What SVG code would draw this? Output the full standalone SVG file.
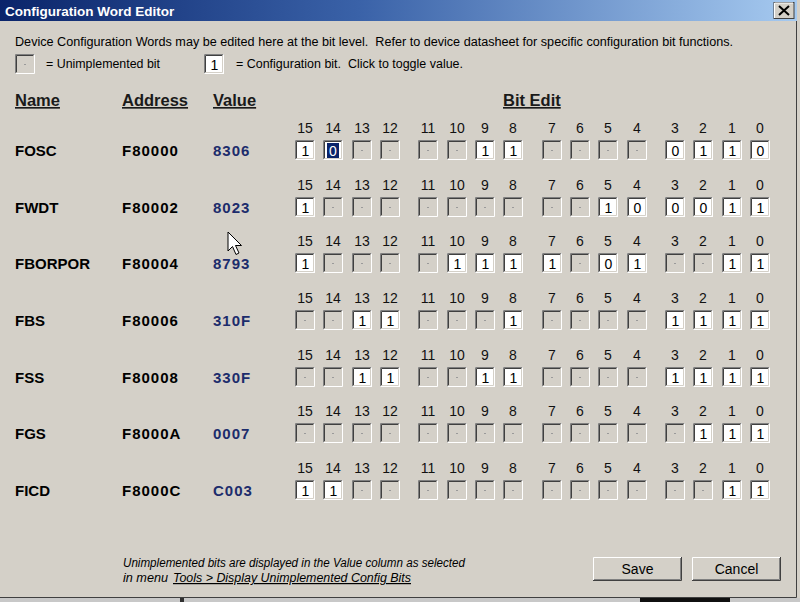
<svg xmlns="http://www.w3.org/2000/svg" xmlns:xlink="http://www.w3.org/1999/xlink" width="800" height="602" viewBox="0 0 800 602">
<style>
.t{font-family:"Liberation Sans",Arial,sans-serif;fill:#000}
.desc{font-size:12.5px;white-space:pre}
.hdr{font-size:16.5px;font-weight:bold;text-decoration:underline;fill:#1a1a1a}
.nm{font-size:15px;font-weight:bold}
.ad{font-size:15px;font-weight:bold;letter-spacing:1px}
.val{font-size:15px;font-weight:bold;letter-spacing:1px;fill:#1c2c6c}
.num{font-size:14px;text-anchor:middle;fill:#111}
.dig{font-size:14px;text-anchor:middle}
.foot{font-size:12px;font-style:italic}
.btn{font-size:14px;text-anchor:middle}
</style>
<defs>
<linearGradient id="tb" x1="0" y1="0" x2="1" y2="0">
<stop offset="0" stop-color="#0a246a"/>
<stop offset="0.45" stop-color="#3a62a8"/>
<stop offset="1" stop-color="#a6caf0"/>
</linearGradient>
<g id="bev" fill="none" stroke-width="1">
<path d="M0.5 19.5V0.5H19.5" stroke="#808080"/>
<path d="M1.5 18.5V1.5H18.5" stroke="#404040"/>
<path d="M0.5 19.5H19.5V0.5" stroke="#ffffff"/>
<path d="M1.5 18.5H18.5V1.5" stroke="#d4d0c8"/>
</g>
<g id="u">
<rect width="20" height="20" fill="#d4d0c8"/>
<use xlink:href="#bev"/>
<rect x="9" y="10" width="2" height="1" fill="#9a9a9a"/>
</g>
<g id="one">
<rect width="20" height="20" fill="#ffffff"/>
<use xlink:href="#bev"/>
<text class="t dig" x="10.5" y="15.5">1</text>
</g>
<g id="zero">
<rect width="20" height="20" fill="#ffffff"/>
<use xlink:href="#bev"/>
<text class="t dig" x="10.5" y="15.5">0</text>
</g>
<g id="zsel">
<rect width="20" height="20" fill="#ffffff"/>
<use xlink:href="#bev"/>
<rect x="4" y="3" width="12" height="15" fill="#0a246a"/>
<text class="t dig" x="10" y="15.5" style="fill:#fff">0</text>
</g>
<g id="nums">
<text class="t num" x="305" y="0">15</text>
<text class="t num" x="333" y="0">14</text>
<text class="t num" x="362" y="0">13</text>
<text class="t num" x="390" y="0">12</text>
<text class="t num" x="428" y="0">11</text>
<text class="t num" x="457" y="0">10</text>
<text class="t num" x="485" y="0">9</text>
<text class="t num" x="513" y="0">8</text>
<text class="t num" x="552" y="0">7</text>
<text class="t num" x="580" y="0">6</text>
<text class="t num" x="608" y="0">5</text>
<text class="t num" x="637" y="0">4</text>
<text class="t num" x="675" y="0">3</text>
<text class="t num" x="703" y="0">2</text>
<text class="t num" x="732" y="0">1</text>
<text class="t num" x="760" y="0">0</text>
</g>
</defs>

<rect width="800" height="602" fill="#d4d0c8"/>

<g id="titlebar">
<rect x="0" y="0" width="797" height="21" fill="url(#tb)"/>
<text class="t" x="5" y="15.5" style="font-size:13.5px;font-weight:bold;fill:#fff">Configuration Word Editor</text>
<g id="close">
<rect x="774" y="2.5" width="20" height="16" fill="#d4d0c8" stroke="#404040"/>
<path d="M774.5 18V3H793" fill="none" stroke="#fff"/>
<path d="M779 6L789 15M789 6L779 15" stroke="#000" stroke-width="2"/>
</g>
</g>

<g id="frame">
<path d="M796.5 21V597.5H0" fill="none" stroke="#404040"/>
<rect x="0" y="598" width="800" height="4" fill="#c8c8c8"/>
<rect x="640" y="598" width="90" height="4" fill="#101010"/>
<rect x="180" y="598" width="4" height="4" fill="#303030"/>
</g>

<g id="intro">
<text class="t desc" x="15" y="46" textLength="718" lengthAdjust="spacingAndGlyphs">Device Configuration Words may be edited here at the bit level.  Refer to device datasheet for specific configuration bit functions.</text>
<use xlink:href="#u" x="15" y="54"/>
<text class="t desc" x="46" y="68" textLength="114" lengthAdjust="spacingAndGlyphs">= Unimplemented bit</text>
<use xlink:href="#one" x="204" y="54"/>
<text class="t desc" x="236" y="68" textLength="227" lengthAdjust="spacingAndGlyphs">= Configuration bit.  Click to toggle value.</text>
</g>

<g id="headers">
<text class="t hdr" x="15" y="106">Name</text>
<text class="t hdr" x="122" y="106">Address</text>
<text class="t hdr" x="213" y="106">Value</text>
<text class="t hdr" x="503" y="106">Bit Edit</text>
</g>

<g id="row-FOSC">
<text class="t nm" x="15" y="156">FOSC</text>
<text class="t ad" x="122" y="156">F80000</text>
<text class="t val" x="213" y="156">8306</text>
<use xlink:href="#nums" y="133"/>
<use xlink:href="#one" x="295" y="140"/><use xlink:href="#zsel" x="323" y="140"/><use xlink:href="#u" x="352" y="140"/><use xlink:href="#u" x="380" y="140"/>
<use xlink:href="#u" x="418" y="140"/><use xlink:href="#u" x="447" y="140"/><use xlink:href="#one" x="475" y="140"/><use xlink:href="#one" x="503" y="140"/>
<use xlink:href="#u" x="542" y="140"/><use xlink:href="#u" x="570" y="140"/><use xlink:href="#u" x="598" y="140"/><use xlink:href="#u" x="627" y="140"/>
<use xlink:href="#zero" x="665" y="140"/><use xlink:href="#one" x="693" y="140"/><use xlink:href="#one" x="722" y="140"/><use xlink:href="#zero" x="750" y="140"/>
</g>

<g id="row-FWDT">
<text class="t nm" x="15" y="213">FWDT</text>
<text class="t ad" x="122" y="213">F80002</text>
<text class="t val" x="213" y="213">8023</text>
<use xlink:href="#nums" y="190"/>
<use xlink:href="#one" x="295" y="197"/><use xlink:href="#u" x="323" y="197"/><use xlink:href="#u" x="352" y="197"/><use xlink:href="#u" x="380" y="197"/>
<use xlink:href="#u" x="418" y="197"/><use xlink:href="#u" x="447" y="197"/><use xlink:href="#u" x="475" y="197"/><use xlink:href="#u" x="503" y="197"/>
<use xlink:href="#u" x="542" y="197"/><use xlink:href="#u" x="570" y="197"/><use xlink:href="#one" x="598" y="197"/><use xlink:href="#zero" x="627" y="197"/>
<use xlink:href="#zero" x="665" y="197"/><use xlink:href="#zero" x="693" y="197"/><use xlink:href="#one" x="722" y="197"/><use xlink:href="#one" x="750" y="197"/>
</g>

<g id="row-FBORPOR">
<text class="t nm" x="15" y="269">FBORPOR</text>
<text class="t ad" x="122" y="269">F80004</text>
<text class="t val" x="213" y="269">8793</text>
<use xlink:href="#nums" y="246"/>
<use xlink:href="#one" x="295" y="253"/><use xlink:href="#u" x="323" y="253"/><use xlink:href="#u" x="352" y="253"/><use xlink:href="#u" x="380" y="253"/>
<use xlink:href="#u" x="418" y="253"/><use xlink:href="#one" x="447" y="253"/><use xlink:href="#one" x="475" y="253"/><use xlink:href="#one" x="503" y="253"/>
<use xlink:href="#one" x="542" y="253"/><use xlink:href="#u" x="570" y="253"/><use xlink:href="#zero" x="598" y="253"/><use xlink:href="#one" x="627" y="253"/>
<use xlink:href="#u" x="665" y="253"/><use xlink:href="#u" x="693" y="253"/><use xlink:href="#one" x="722" y="253"/><use xlink:href="#one" x="750" y="253"/>
</g>

<g id="row-FBS">
<text class="t nm" x="15" y="326">FBS</text>
<text class="t ad" x="122" y="326">F80006</text>
<text class="t val" x="213" y="326">310F</text>
<use xlink:href="#nums" y="303"/>
<use xlink:href="#u" x="295" y="310"/><use xlink:href="#u" x="323" y="310"/><use xlink:href="#one" x="352" y="310"/><use xlink:href="#one" x="380" y="310"/>
<use xlink:href="#u" x="418" y="310"/><use xlink:href="#u" x="447" y="310"/><use xlink:href="#u" x="475" y="310"/><use xlink:href="#one" x="503" y="310"/>
<use xlink:href="#u" x="542" y="310"/><use xlink:href="#u" x="570" y="310"/><use xlink:href="#u" x="598" y="310"/><use xlink:href="#u" x="627" y="310"/>
<use xlink:href="#one" x="665" y="310"/><use xlink:href="#one" x="693" y="310"/><use xlink:href="#one" x="722" y="310"/><use xlink:href="#one" x="750" y="310"/>
</g>

<g id="row-FSS">
<text class="t nm" x="15" y="383">FSS</text>
<text class="t ad" x="122" y="383">F80008</text>
<text class="t val" x="213" y="383">330F</text>
<use xlink:href="#nums" y="360"/>
<use xlink:href="#u" x="295" y="367"/><use xlink:href="#u" x="323" y="367"/><use xlink:href="#one" x="352" y="367"/><use xlink:href="#one" x="380" y="367"/>
<use xlink:href="#u" x="418" y="367"/><use xlink:href="#u" x="447" y="367"/><use xlink:href="#one" x="475" y="367"/><use xlink:href="#one" x="503" y="367"/>
<use xlink:href="#u" x="542" y="367"/><use xlink:href="#u" x="570" y="367"/><use xlink:href="#u" x="598" y="367"/><use xlink:href="#u" x="627" y="367"/>
<use xlink:href="#one" x="665" y="367"/><use xlink:href="#one" x="693" y="367"/><use xlink:href="#one" x="722" y="367"/><use xlink:href="#one" x="750" y="367"/>
</g>

<g id="row-FGS">
<text class="t nm" x="15" y="439">FGS</text>
<text class="t ad" x="122" y="439">F8000A</text>
<text class="t val" x="213" y="439">0007</text>
<use xlink:href="#nums" y="416"/>
<use xlink:href="#u" x="295" y="423"/><use xlink:href="#u" x="323" y="423"/><use xlink:href="#u" x="352" y="423"/><use xlink:href="#u" x="380" y="423"/>
<use xlink:href="#u" x="418" y="423"/><use xlink:href="#u" x="447" y="423"/><use xlink:href="#u" x="475" y="423"/><use xlink:href="#u" x="503" y="423"/>
<use xlink:href="#u" x="542" y="423"/><use xlink:href="#u" x="570" y="423"/><use xlink:href="#u" x="598" y="423"/><use xlink:href="#u" x="627" y="423"/>
<use xlink:href="#u" x="665" y="423"/><use xlink:href="#one" x="693" y="423"/><use xlink:href="#one" x="722" y="423"/><use xlink:href="#one" x="750" y="423"/>
</g>

<g id="row-FICD">
<text class="t nm" x="15" y="496">FICD</text>
<text class="t ad" x="122" y="496">F8000C</text>
<text class="t val" x="213" y="496">C003</text>
<use xlink:href="#nums" y="473"/>
<use xlink:href="#one" x="295" y="480"/><use xlink:href="#one" x="323" y="480"/><use xlink:href="#u" x="352" y="480"/><use xlink:href="#u" x="380" y="480"/>
<use xlink:href="#u" x="418" y="480"/><use xlink:href="#u" x="447" y="480"/><use xlink:href="#u" x="475" y="480"/><use xlink:href="#u" x="503" y="480"/>
<use xlink:href="#u" x="542" y="480"/><use xlink:href="#u" x="570" y="480"/><use xlink:href="#u" x="598" y="480"/><use xlink:href="#u" x="627" y="480"/>
<use xlink:href="#u" x="665" y="480"/><use xlink:href="#u" x="693" y="480"/><use xlink:href="#one" x="722" y="480"/><use xlink:href="#one" x="750" y="480"/>
</g>

<g id="footer-note">
<text class="t foot" x="123" y="567" textLength="342" lengthAdjust="spacingAndGlyphs">Unimplemented bits are displayed in the Value column as selected</text>
<text class="t foot" x="123" y="582" textLength="45" lengthAdjust="spacingAndGlyphs">in menu</text>
<text class="t foot" x="173" y="582" textLength="238" lengthAdjust="spacingAndGlyphs" style="text-decoration:underline">Tools &gt; Display Unimplemented Config Bits</text>
</g>

<g id="btn-save">
<rect x="593" y="557" width="89" height="24" fill="#d4d0c8"/>
<path d="M593.5 580.5V557.5H681.5" fill="none" stroke="#ffffff"/>
<path d="M593 580.5H681.5V557" fill="none" stroke="#404040"/>
<path d="M594 579.5H680.5V558" fill="none" stroke="#808080"/>
<text class="t btn" x="637.5" y="574">Save</text>
</g>
<g id="btn-cancel">
<rect x="692" y="557" width="89" height="24" fill="#d4d0c8"/>
<path d="M692.5 580.5V557.5H780.5" fill="none" stroke="#ffffff"/>
<path d="M692 580.5H780.5V557" fill="none" stroke="#404040"/>
<path d="M693 579.5H779.5V558" fill="none" stroke="#808080"/>
<text class="t btn" x="736.5" y="574">Cancel</text>
</g>

<g id="cursor">
<path d="M228 232V251L232.5 246.5L236 254.5L239 253L235.5 245.5H241.5Z" fill="#fff" stroke="#000" stroke-width="1" stroke-linejoin="miter"/>
</g>
</svg>
